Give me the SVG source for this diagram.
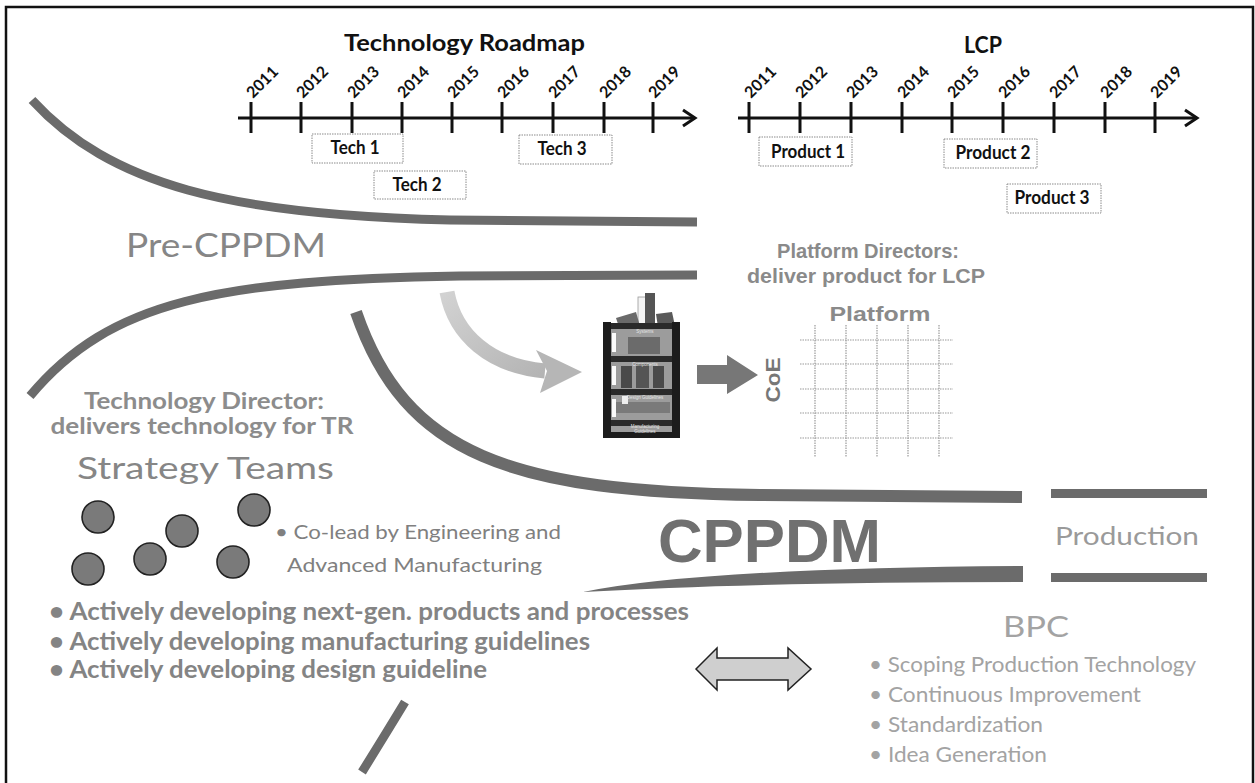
<svg xmlns="http://www.w3.org/2000/svg" width="1255" height="783" viewBox="0 0 1255 783">
  <defs>
    <style>
      .frame{fill:#fff;stroke:#111;stroke-width:2.5}
      .axis{fill:none;stroke:#111;stroke-width:3;marker-end:url(#chev)}
      .tick{stroke:#111;stroke-width:3}
      .yr{font-family:Lato,'Liberation Sans',sans-serif;font-weight:700;font-size:16px;fill:#111}
      .ttl{font-family:Lato,'Liberation Sans',sans-serif;font-weight:700;font-size:23px;fill:#111}
      .box{fill:#fff;stroke:#8a8a8a;stroke-width:1;stroke-dasharray:1.5 1}
      .lbl{font-family:Lato,'Liberation Sans',sans-serif;font-weight:700;font-size:18px;fill:#111;text-anchor:middle}
      .band{fill:none;stroke:#6b6b6b;stroke-linecap:butt}
      .bandfill{fill:#6b6b6b}
      .cal{font-family:Lato,'Liberation Sans',sans-serif;fill:#868686}
      .ari{font-family:'Liberation Sans',Arial,sans-serif;font-weight:700;fill:#8a8a8a}
      .team{fill:#7a7a7a;stroke:#222;stroke-width:1.6}
      .grid{stroke:#9a9a9a;stroke-width:1.2;stroke-dasharray:1.5 1}
      .tiny{font-family:'Liberation Sans',Arial,sans-serif;font-size:4.5px;fill:#e6e6e6;text-anchor:middle}
    </style>
    <marker id="chev" markerUnits="userSpaceOnUse" markerWidth="18" markerHeight="20" viewBox="0 0 18 20" refX="15" refY="10" orient="auto">
      <path d="M3,2 L15,10 L3,18" fill="none" stroke="#111" stroke-width="3"/>
    </marker>
    <linearGradient id="lightArrow" x1="0" y1="0" x2="1" y2="1">
      <stop offset="0" stop-color="#d2d2d2"/>
      <stop offset="1" stop-color="#b4b4b4"/>
    </linearGradient>
  </defs>

  <!-- page frame -->
  <rect class="frame" x="6" y="7" width="1247" height="800"/>

  <!-- Technology Roadmap timeline -->
  <g id="tr-timeline">
    <text class="ttl" x="344" y="51" textLength="241" lengthAdjust="spacingAndGlyphs">Technology  Roadmap</text>
    <line class="axis" x1="238" y1="118" x2="695" y2="118"/>
    <g class="tick">
      <line x1="251" y1="102" x2="251" y2="133"/><line x1="301" y1="102" x2="301" y2="133"/>
      <line x1="352" y1="102" x2="352" y2="133"/><line x1="402" y1="102" x2="402" y2="133"/>
      <line x1="452" y1="102" x2="452" y2="133"/><line x1="502" y1="102" x2="502" y2="133"/>
      <line x1="553" y1="102" x2="553" y2="133"/><line x1="604" y1="102" x2="604" y2="133"/>
      <line x1="653" y1="102" x2="653" y2="133"/>
    </g>
    <g class="yr">
      <text transform="translate(253,99) rotate(-45)">2011</text>
      <text transform="translate(303,99) rotate(-45)">2012</text>
      <text transform="translate(354,99) rotate(-45)">2013</text>
      <text transform="translate(404,99) rotate(-45)">2014</text>
      <text transform="translate(454,99) rotate(-45)">2015</text>
      <text transform="translate(504,99) rotate(-45)">2016</text>
      <text transform="translate(555,99) rotate(-45)">2017</text>
      <text transform="translate(606,99) rotate(-45)">2018</text>
      <text transform="translate(655,99) rotate(-45)">2019</text>
    </g>
  </g>
  <g id="tech1"><rect class="box" x="312" y="134" width="91" height="29"/><text class="lbl" x="355" y="154" textLength="49" lengthAdjust="spacingAndGlyphs">Tech 1</text></g>
  <g id="tech2"><rect class="box" x="374" y="171" width="92" height="28"/><text class="lbl" x="417" y="191" textLength="49" lengthAdjust="spacingAndGlyphs">Tech 2</text></g>
  <g id="tech3"><rect class="box" x="519" y="135" width="93" height="29"/><text class="lbl" x="562" y="155" textLength="49" lengthAdjust="spacingAndGlyphs">Tech 3</text></g>

  <!-- LCP timeline -->
  <g id="lcp-timeline">
    <text class="ttl" x="964" y="53" textLength="38" lengthAdjust="spacingAndGlyphs">LCP</text>
    <line class="axis" x1="738" y1="118" x2="1197" y2="118"/>
    <g class="tick">
      <line x1="749" y1="102" x2="749" y2="133"/><line x1="800" y1="102" x2="800" y2="133"/>
      <line x1="851" y1="102" x2="851" y2="133"/><line x1="902" y1="102" x2="902" y2="133"/>
      <line x1="952" y1="102" x2="952" y2="133"/><line x1="1003" y1="102" x2="1003" y2="133"/>
      <line x1="1054" y1="102" x2="1054" y2="133"/><line x1="1105" y1="102" x2="1105" y2="133"/>
      <line x1="1155" y1="102" x2="1155" y2="133"/>
    </g>
    <g class="yr">
      <text transform="translate(751,99) rotate(-45)">2011</text>
      <text transform="translate(802,99) rotate(-45)">2012</text>
      <text transform="translate(853,99) rotate(-45)">2013</text>
      <text transform="translate(904,99) rotate(-45)">2014</text>
      <text transform="translate(954,99) rotate(-45)">2015</text>
      <text transform="translate(1005,99) rotate(-45)">2016</text>
      <text transform="translate(1056,99) rotate(-45)">2017</text>
      <text transform="translate(1107,99) rotate(-45)">2018</text>
      <text transform="translate(1157,99) rotate(-45)">2019</text>
    </g>
  </g>
  <g id="product1"><rect class="box" x="759" y="137" width="93" height="29"/><text class="lbl" x="808" y="158" textLength="74" lengthAdjust="spacingAndGlyphs">Product 1</text></g>
  <g id="product2"><rect class="box" x="944" y="139" width="93" height="29"/><text class="lbl" x="993" y="159" textLength="75" lengthAdjust="spacingAndGlyphs">Product 2</text></g>
  <g id="product3"><rect class="box" x="1007" y="184" width="94" height="29"/><text class="lbl" x="1052" y="204" textLength="75" lengthAdjust="spacingAndGlyphs">Product 3</text></g>

  <!-- funnel bands and arrows -->
  <g id="connectors">
    <path class="band" stroke-width="9" d="M32,100 C110,185 230,215 450,220 L697,222"/>
    <path class="band" stroke-width="9" d="M30,396 C110,300 220,280 460,276 L697,275"/>
    <path class="band" stroke-width="12" d="M356,312 C405,455 510,492 760,495 L1022,497"/>
    <path class="bandfill" d="M583,592 Q700,568 1023,566 L1023,582 Q760,582 583,592 Z"/>
    <path class="band" stroke-width="9" d="M405,702 Q385,735 362,772"/>
    <rect class="bandfill" x="1051" y="489" width="156" height="9"/>
    <rect class="bandfill" x="1051" y="573" width="156" height="9"/>
    <!-- light curved arrow into the shelf -->
    <path d="M447,292 C455,335 490,366 545,371" fill="none" stroke="url(#lightArrow)" stroke-width="15"/>
    <polygon points="536,350 582,372 540,393 547,371" fill="#b6b6b6"/>
    <!-- shelf to CoE -->
    <polygon points="697,365 727,365 727,355 758,375 727,394 727,384 697,384" fill="#777"/>
    <!-- two-way exchange -->
    <path d="M696,669 L717,648 L717,658 L788,658 L788,648 L811,669 L788,690 L788,680 L717,680 L717,690 Z" fill="#cfcfcf" stroke="#222" stroke-width="1.5" stroke-linejoin="miter"/>
  </g>

  <g id="pre-cppdm"><text class="cal" x="126" y="257" font-size="32" textLength="200" lengthAdjust="spacingAndGlyphs">Pre-CPPDM</text></g>

  <g id="platform-directors">
    <text class="ari" x="868" y="258" font-size="21" text-anchor="middle" textLength="182" lengthAdjust="spacingAndGlyphs">Platform Directors:</text>
    <text class="ari" x="866" y="283" font-size="21" text-anchor="middle" textLength="238" lengthAdjust="spacingAndGlyphs">deliver product for LCP</text>
    <text class="ari" x="880" y="321" font-size="21" text-anchor="middle" textLength="101" lengthAdjust="spacingAndGlyphs">Platform</text>
  </g>

  <!-- shelf of systems, components and guidelines -->
  <g id="shelf">
    <rect x="638" y="297" width="8" height="27" fill="#f4f4f4" stroke="#999" stroke-width="0.8"/>
    <rect x="645" y="293" width="10" height="31" fill="#555"/>
    <polygon points="616,318 636,312 640,326 620,330" fill="#6a6a6a"/>
    <polygon points="656,314 672,312 675,326 658,327" fill="#5a5a5a"/>
    <rect x="611" y="328" width="62" height="104" fill="#9c9c9c"/>
    <rect x="628" y="337" width="32" height="17" fill="#6b6b6b"/>
    <rect x="621" y="366" width="11" height="22" fill="#4a4a4a"/>
    <rect x="636" y="364" width="13" height="24" fill="#555"/>
    <rect x="653" y="366" width="11" height="22" fill="#4a4a4a"/>
    <rect x="616" y="402" width="54" height="11" fill="#7a7a7a"/>
    <rect x="622" y="396" width="6" height="8" fill="#eee"/>
    <polygon points="604,323 673,323 680,329 610,329" fill="#2a2a2a"/>
    <polygon points="604,356 673,356 680,362 610,362" fill="#2a2a2a"/>
    <polygon points="604,389 673,389 680,395 610,395" fill="#2a2a2a"/>
    <polygon points="604,420 673,420 680,426 610,426" fill="#2a2a2a"/>
    <rect x="603" y="322" width="8" height="116" fill="#1c1c1c"/>
    <rect x="672" y="322" width="8" height="116" fill="#1c1c1c"/>
    <rect x="603" y="432" width="77" height="6" fill="#1c1c1c"/>
    <rect x="612" y="333" width="4" height="19" fill="#fafafa"/>
    <rect x="612" y="366" width="4" height="19" fill="#fafafa"/>
    <rect x="612" y="399" width="4" height="18" fill="#fafafa"/>
    <text class="tiny" x="645" y="333">Systems</text>
    <text class="tiny" x="645" y="366">Components</text>
    <text class="tiny" x="645" y="399">Design Guidelines</text>
    <text class="tiny" x="645" y="428">Manufacturing</text>
    <text class="tiny" x="645" y="433">Guidelines</text>
  </g>

  <g id="coe"><text class="ari" transform="translate(780,380) rotate(-90)" font-size="21" text-anchor="middle" textLength="45" lengthAdjust="spacingAndGlyphs" style="fill:#777">CoE</text></g>

  <g id="platform-grid" class="grid">
    <line x1="815" y1="325" x2="815" y2="457"/><line x1="846" y1="325" x2="846" y2="457"/>
    <line x1="877" y1="325" x2="877" y2="457"/><line x1="908" y1="325" x2="908" y2="457"/>
    <line x1="939" y1="325" x2="939" y2="457"/>
    <line x1="800" y1="340" x2="953" y2="340"/><line x1="800" y1="364" x2="953" y2="364"/>
    <line x1="800" y1="389" x2="953" y2="389"/><line x1="800" y1="413" x2="953" y2="413"/>
    <line x1="800" y1="438" x2="953" y2="438"/>
  </g>

  <g id="technology-director" class="cal" font-weight="700" font-size="22" text-anchor="middle" style="fill:#8c8c8c">
    <text x="204" y="409" textLength="240" lengthAdjust="spacingAndGlyphs">Technology Director:</text>
    <text x="202" y="434" textLength="303" lengthAdjust="spacingAndGlyphs">delivers technology for TR</text>
  </g>

  <g id="strategy-teams">
    <text class="cal" x="77" y="479" font-size="31" textLength="257" lengthAdjust="spacingAndGlyphs">Strategy Teams</text>
    <circle class="team" cx="98" cy="517" r="16"/>
    <circle class="team" cx="182" cy="531" r="16"/>
    <circle class="team" cx="254" cy="510" r="16"/>
    <circle class="team" cx="88" cy="569" r="16"/>
    <circle class="team" cx="150" cy="559" r="16"/>
    <circle class="team" cx="233" cy="562" r="16"/>
    <text class="cal" x="275" y="539" font-size="20" textLength="286" lengthAdjust="spacingAndGlyphs" style="fill:#808080">• Co-lead by Engineering and</text>
    <text class="cal" x="287" y="572" font-size="20" textLength="255" lengthAdjust="spacingAndGlyphs" style="fill:#808080">Advanced Manufacturing</text>
  </g>

  <g id="development-list" class="cal" font-weight="700" font-size="24" style="fill:#848484">
    <text x="49" y="620" textLength="640" lengthAdjust="spacingAndGlyphs">• Actively developing next-gen. products and processes</text>
    <text x="49" y="650" textLength="541" lengthAdjust="spacingAndGlyphs">• Actively developing manufacturing guidelines</text>
    <text x="49" y="678" textLength="438" lengthAdjust="spacingAndGlyphs">• Actively developing design guideline</text>
  </g>

  <g id="cppdm"><text class="ari" x="658" y="562" font-size="62" textLength="223" lengthAdjust="spacingAndGlyphs" style="fill:#707070">CPPDM</text></g>

  <g id="production"><text class="cal" x="1055" y="545" font-size="25" textLength="144" lengthAdjust="spacingAndGlyphs" style="fill:#9a9a9a">Production</text></g>

  <g id="bpc" class="cal" style="fill:#a3a3a3">
    <text x="1003" y="637" font-size="29" textLength="66" lengthAdjust="spacingAndGlyphs">BPC</text>
    <text x="869" y="672" font-size="21" textLength="327" lengthAdjust="spacingAndGlyphs">• Scoping Production Technology</text>
    <text x="869" y="702" font-size="21" textLength="272" lengthAdjust="spacingAndGlyphs">• Continuous Improvement</text>
    <text x="869" y="732" font-size="21" textLength="174" lengthAdjust="spacingAndGlyphs">• Standardization</text>
    <text x="869" y="762" font-size="21" textLength="178" lengthAdjust="spacingAndGlyphs">• Idea Generation</text>
  </g>
</svg>
